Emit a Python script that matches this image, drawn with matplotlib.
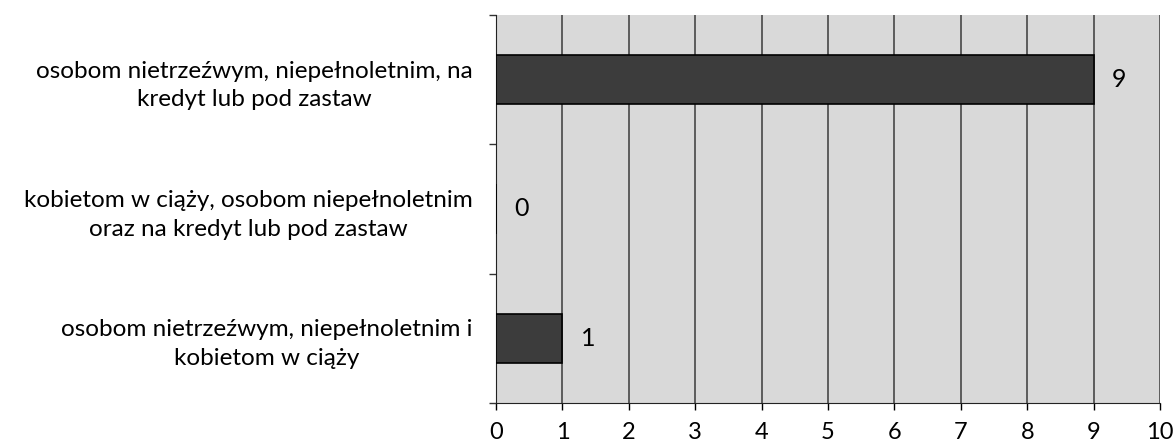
import numpy as np
import matplotlib.pyplot as plt

# dane
kategorie = [
    "osobom nietrzeźwym, niepełnoletnim i\nkobietom w ciąży",
    "kobietom w ciąży, osobom niepełnoletnim\noraz na kredyt lub pod zastaw",
    "osobom nietrzeźwym, niepełnoletnim, na\nkredyt lub pod zastaw",
]
wartosci = [1, 0, 9]
os_x = list(range(0, 11))

plt.rcParams['font.family'] = ['Lato', 'DejaVu Sans']

fig = plt.figure(figsize=(11.76, 4.46), dpi=100)
ax = fig.add_axes([0.4218, 0.0964, 0.9864 - 0.4218, 0.9664 - 0.0964])

y = np.arange(len(kategorie))
ax.set_facecolor('#d9d9d9')
ax.barh(y, wartosci, height=0.38, color='#3c3c3c', edgecolor='black',
        linewidth=1.2, zorder=3)

# etykiety wartości
for yi, v in zip(y, wartosci):
    ax.text(v + 0.28, yi, str(v), va='center', ha='left', fontsize=18,
            color='black', zorder=4)

ax.set_xlim(0, 10)
ax.set_ylim(-0.5, len(kategorie) - 0.5)
ax.set_xticks(os_x)
ax.tick_params(axis='x', labelsize=17, length=5, width=1, pad=9, colors='black')

# etykiety kategorii, podziałki na granicach
ax.set_yticks(y)
ax.set_yticklabels(kategorie, fontsize=17.5, ha='right',
                   multialignment='center', linespacing=1.45)
ax.tick_params(axis='y', length=0, pad=17)
ax.set_yticks(np.arange(-0.5, len(kategorie)), minor=True)
ax.tick_params(axis='y', which='minor', length=5, width=1, color='#333333')

ax.xaxis.grid(True, color='#3a3a3a', linewidth=1.1, zorder=1)
ax.set_axisbelow(True)

for s in ['top', 'right']:
    ax.spines[s].set_visible(False)
ax.spines['left'].set_color('#222222')
ax.spines['bottom'].set_color('#222222')

fig.savefig('out.png', dpi=100)
